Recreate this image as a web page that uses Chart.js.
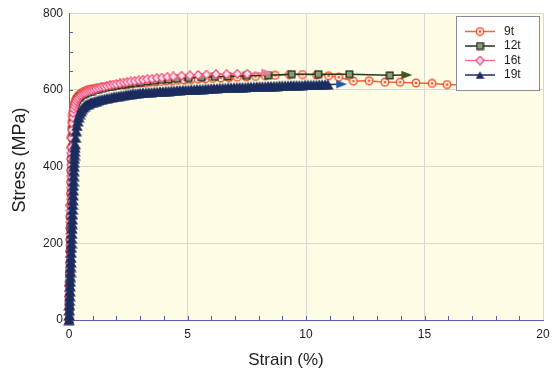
<!DOCTYPE html>
<html>
<head>
<meta charset="utf-8">
<script src="https://cdn.jsdelivr.net/npm/chart.js@4.4.0/dist/chart.umd.min.js"></script>
<style>
  html, body { margin: 0; padding: 0; background: #ffffff; }
  #wrap { width: 560px; height: 371px; }
</style>
</head>
<body>
<div id="wrap"><canvas id="c" width="560" height="371"></canvas></div>
<script>
// Tensile test curves: strain (%) vs. stress (MPa) for four plate thicknesses
const seriesNames = ['9t', '12t', '16t', '19t'];
const xTicks = [0, 5, 10, 15, 20];
const yTicks = [0, 200, 400, 600, 800];

const strain9t = [0, 0.006, 0.012, 0.018, 0.024, 0.03, 0.036, 0.042, 0.048, 0.054, 0.06, 0.066, 0.072, 0.078, 0.084, 0.09,
  0.1, 0.113, 0.128, 0.146, 0.167, 0.19, 0.22, 0.26, 0.3, 0.35, 0.4, 0.46, 0.53, 0.6, 0.68, 0.76, 0.85, 0.94, 1.03,
  1.15, 1.28, 1.41, 1.55, 1.7, 1.85, 2.0, 2.16, 2.33, 2.5, 2.68, 2.86, 3.05, 3.25, 3.45, 3.66, 3.88, 4.1, 4.35, 4.6,
  4.87, 5.15, 5.45, 5.75, 6.07, 6.4, 6.75, 7.1, 7.48, 7.87, 8.28, 8.7, 9.3, 9.85, 10.45, 10.95, 11.38, 12.0, 12.66,
  13.33, 13.97, 14.64, 15.32, 15.95, 16.62];
const stress9t = [0, 30, 60, 90, 120, 150, 180, 210, 240, 270, 300, 330, 360, 390, 420, 450,
  478, 500, 518, 533, 545, 555, 563, 570, 576, 581, 585, 589, 592, 595, 597, 599, 601, 602, 603,
  604, 606, 607, 608, 610, 611, 612, 613, 614, 615, 616, 617, 618, 619, 620, 621, 622, 623, 624, 625,
  626, 627, 628, 629, 630, 631, 632, 633, 634, 635, 637, 638, 640, 640, 639, 637, 633, 623, 624,
  620, 620, 618, 617, 614, 613];

const strain12t = [0, 0.009, 0.017, 0.026, 0.034, 0.043, 0.051, 0.06, 0.069, 0.077, 0.086, 0.094, 0.103, 0.111, 0.12, 0.129,
  0.14, 0.155, 0.172, 0.192, 0.215, 0.24, 0.27, 0.3, 0.36, 0.43, 0.5, 0.6, 0.7, 0.8, 0.9, 1.0,
  1.12, 1.25, 1.4, 1.55, 1.7, 1.85, 2.0, 2.2, 2.4, 2.6, 2.8, 3.0, 3.3, 3.6, 3.9, 4.2, 4.55, 5.05, 5.6, 6.15, 6.7,
  7.5, 8.4, 9.4, 10.52, 11.83, 13.54, 14.25];
const stress12t = [0, 30, 60, 90, 120, 150, 180, 210, 240, 270, 300, 330, 360, 390, 420, 450,
  475, 497, 515, 530, 542, 552, 560, 566, 574, 579, 583, 587, 590, 593, 595, 597,
  600, 602, 604, 606, 608, 610, 611, 613, 615, 617, 618, 620, 622, 624, 626, 627, 629, 631, 633, 634, 635,
  637, 638, 641, 641, 641, 638, 639];

const strain16t = [0, 0.003, 0.006, 0.009, 0.013, 0.016, 0.019, 0.022, 0.025, 0.028, 0.031, 0.034, 0.038, 0.041, 0.044,
  0.047, 0.05, 0.053, 0.056, 0.059, 0.063, 0.066, 0.069, 0.072, 0.075, 0.078, 0.081, 0.084, 0.088, 0.091, 0.094,
  0.105, 0.118, 0.134, 0.153, 0.175, 0.2, 0.23, 0.265, 0.305, 0.35, 0.4, 0.45, 0.51, 0.57, 0.64, 0.71, 0.79, 0.87, 0.95,
  1.04, 1.14, 1.25, 1.36, 1.48, 1.6, 1.73, 1.86, 2.0, 2.15, 2.3, 2.45, 2.6, 2.77, 2.94, 3.12, 3.3, 3.5, 3.7, 3.92,
  4.15, 4.4, 4.75, 5.1, 5.45, 5.8, 6.2, 6.65, 7.1, 7.52, 8.34];
const stress16t = [0, 15, 30, 45, 60, 75, 90, 105, 120, 135, 150, 165, 180, 195, 210,
  225, 240, 255, 270, 285, 300, 315, 330, 345, 360, 375, 390, 405, 420, 435, 450,
  474, 495, 513, 528, 540, 550, 558, 565, 571, 576, 580, 584, 587, 590, 592, 594, 596, 598, 599,
  601, 603, 605, 607, 608, 610, 612, 614, 615, 617, 619, 620, 622, 623, 625, 626, 628, 629, 631, 632,
  634, 635, 637, 638, 639, 640, 641, 641, 642, 642, 645];

const strain19t = [0, 0.006, 0.013, 0.02, 0.026, 0.033, 0.04, 0.047, 0.053, 0.059, 0.066, 0.073, 0.079, 0.086, 0.093,
  0.099, 0.106, 0.112, 0.119, 0.126, 0.132, 0.139, 0.146, 0.152, 0.159, 0.165, 0.172, 0.179, 0.185, 0.192, 0.198,
  0.205, 0.212, 0.219, 0.227, 0.235, 0.243, 0.251, 0.26,
  0.28, 0.305, 0.335, 0.37, 0.41, 0.455, 0.5, 0.55, 0.6, 0.66, 0.72, 0.79, 0.86,
  0.93, 1.0, 1.08, 1.16, 1.24, 1.32, 1.4, 1.5, 1.6, 1.7, 1.8, 1.9, 2.0, 2.1, 2.2, 2.3, 2.4, 2.5, 2.6, 2.7, 2.8,
  2.9, 3.0, 3.12, 3.24, 3.36, 3.48, 3.6, 3.72, 3.84, 3.96, 4.08, 4.2, 4.32, 4.44, 4.56, 4.68, 4.8, 4.92, 5.04,
  5.16, 5.28, 5.4, 5.52, 5.64, 5.76, 5.88, 6.0, 6.12, 6.24, 6.36, 6.48, 6.6, 6.72, 6.84, 6.96, 7.08, 7.2, 7.32,
  7.44, 7.56, 7.68, 7.8, 7.92, 8.04, 8.16, 8.28, 8.4, 8.52, 8.64, 8.76, 8.88, 9.0, 9.12, 9.24, 9.36, 9.48, 9.6,
  9.72, 9.84, 9.96, 10.08, 10.2, 10.32, 10.44, 10.56, 10.68, 10.8, 10.92, 11.5];
const stress19t = [0, 12, 25, 38, 50, 62, 75, 88, 100, 112, 125, 138, 150, 162, 175,
  188, 200, 212, 225, 238, 250, 262, 275, 288, 300, 312, 325, 338, 350, 362, 375,
  388, 400, 410, 420, 430, 440, 449, 458,
  475, 492, 506, 518, 528, 537, 544, 550, 554, 558, 561, 563, 565,
  567, 568, 570, 571, 573, 574, 575, 577, 578, 579, 581, 582, 583, 584, 585, 586, 587, 588, 589, 590, 590,
  591, 592, 593, 593, 594, 594, 595, 595, 596, 596, 597, 597, 598, 598, 599, 599, 600, 600, 600,
  601, 601, 602, 602, 602, 603, 603, 604, 604, 604, 605, 605, 605, 606, 606, 606, 607, 607, 607,
  607, 608, 608, 608, 609, 609, 609, 609, 610, 610, 610, 610, 611, 611, 611, 611, 612, 612, 612,
  612, 612, 613, 613, 613, 613, 613, 614, 614, 614, 614, 615];

// ---- marker sprites -------------------------------------------------------
function sprite(w, h, paint) {
  const c = document.createElement('canvas');
  c.width = w; c.height = h;
  paint(c.getContext('2d'), w, h);
  return c;
}
const mk9 = sprite(10, 10, (g) => {
  g.beginPath(); g.arc(5, 5, 3.8, 0, Math.PI * 2);
  g.fillStyle = '#fff0e6'; g.fill();
  g.lineWidth = 1.4; g.strokeStyle = '#f1552b'; g.stroke();
  g.beginPath(); g.arc(5, 5, 1.3, 0, Math.PI * 2);
  g.fillStyle = '#f1552b'; g.fill();
});
const mk12 = sprite(9, 9, (g) => {
  g.fillStyle = '#8d9c76'; g.fillRect(1, 1, 7, 7);
  g.lineWidth = 1.3; g.strokeStyle = '#1f2b1c'; g.strokeRect(1.2, 1.2, 6.6, 6.6);
});
const mk16 = sprite(10, 10, (g) => {
  g.beginPath(); g.moveTo(5, 0.8); g.lineTo(9.2, 5); g.lineTo(5, 9.2); g.lineTo(0.8, 5); g.closePath();
  g.fillStyle = '#fde3ec'; g.fill();
  g.lineWidth = 1.3; g.strokeStyle = '#f2507c'; g.stroke();
});
const mk19 = sprite(12, 11, (g) => {
  g.beginPath(); g.moveTo(6, 0.3); g.lineTo(11.8, 10.5); g.lineTo(0.2, 10.5); g.closePath();
  g.fillStyle = '#1b2c5e'; g.fill();
});
function arrow(color) {
  return sprite(12, 10, (g) => {
    g.beginPath(); g.moveTo(0.5, 0.8); g.lineTo(11.5, 5); g.lineTo(0.5, 9.2); g.closePath();
    g.fillStyle = color; g.fill();
  });
}

const styles = [
  { line: '#f2692f', marker: mk9,  arrow: arrow('#f2502a') },
  { line: '#27351f', marker: mk12, arrow: arrow('#44531c') },
  { line: '#f2708f', marker: mk16, arrow: arrow('#f27a98') },
  { line: '#1d2d5d', marker: mk19, arrow: arrow('#2456a8') }
];
const strains = [strain9t, strain12t, strain16t, strain19t];
const stresses = [stress9t, stress12t, stress16t, stress19t];

const datasets = seriesNames.map((name, i) => {
  const xs = strains[i], ys = stresses[i];
  const pts = xs.map((x, k) => ({ x: x, y: ys[k] }));
  const last = pts.length - 1;
  return {
    label: name,
    data: pts,
    showLine: true,
    borderColor: styles[i].line,
    borderWidth: 1.5,
    tension: 0,
    pointRadius: 4,
    pointStyle: pts.map((p, k) => (k === last ? styles[i].arrow : styles[i].marker)),
    clip: false,
    order: 4 - i
  };
});

// ---- plugins ---------------------------------------------------------------
const plotBackground = {
  id: 'plotBackground',
  beforeDraw(chart) {
    const { ctx, chartArea: a } = chart;
    ctx.save();
    ctx.fillStyle = '#fefde6';
    ctx.fillRect(a.left, a.top, a.right - a.left, a.bottom - a.top);
    ctx.restore();
  }
};

const innerTicks = {
  id: 'innerTicks',
  beforeDatasetsDraw(chart) {
    const { ctx, chartArea: a, scales } = chart;
    ctx.save();
    ctx.strokeStyle = '#5c5cae';
    ctx.lineWidth = 1;
    ctx.beginPath();
    for (let v = 1; v < 20; v++) {
      const px = Math.round(scales.x.getPixelForValue(v)) + 0.5;
      ctx.moveTo(px, a.bottom); ctx.lineTo(px, a.bottom - 4);
    }
    for (let v = 50; v < 800; v += 50) {
      const py = Math.round(scales.y.getPixelForValue(v)) + 0.5;
      ctx.moveTo(a.left, py); ctx.lineTo(a.left + 4, py);
    }
    ctx.stroke();
    ctx.restore();
  }
};

const axisTitles = {
  id: 'axisTitles',
  afterDraw(chart) {
    const { ctx } = chart;
    ctx.save();
    ctx.fillStyle = '#1e1e1e';
    ctx.font = "17px 'Liberation Sans', Arial, sans-serif";
    ctx.textAlign = 'center';
    ctx.textBaseline = 'middle';
    ctx.fillText('Strain (%)', 286, 360);
    ctx.translate(20, 160);
    ctx.rotate(-Math.PI / 2);
    ctx.font = "18px 'Liberation Sans', Arial, sans-serif";
    ctx.fillText('Stress (MPa)', 0, 0);
    ctx.restore();
  }
};

const boxLegend = {
  id: 'boxLegend',
  afterDraw(chart) {
    const { ctx } = chart;
    ctx.save();
    ctx.fillStyle = '#ffffff';
    ctx.fillRect(456, 16, 83, 74);
    ctx.strokeStyle = '#8a8a9a';
    ctx.lineWidth = 1;
    ctx.strokeRect(456.5, 16.5, 83, 74);
    const rows = [31.5, 46, 60.5, 75];
    seriesNames.forEach((name, i) => {
      const y = rows[i];
      ctx.strokeStyle = styles[i].line;
      ctx.lineWidth = 1.5;
      ctx.beginPath(); ctx.moveTo(465, y); ctx.lineTo(495, y); ctx.stroke();
      const m = i === 3 ? mk19legend : styles[i].marker;
      ctx.drawImage(m, 480 - m.width / 2, y - m.height / 2);
      ctx.fillStyle = '#1e1e1e';
      ctx.font = "12px 'Liberation Sans', Arial, sans-serif";
      ctx.textAlign = 'left';
      ctx.textBaseline = 'middle';
      ctx.fillText(name, 504, y);
    });
    ctx.restore();
  }
};
const mk19legend = sprite(9, 8, (g) => {
  g.beginPath(); g.moveTo(4.5, 0.3); g.lineTo(8.8, 7.7); g.lineTo(0.2, 7.7); g.closePath();
  g.fillStyle = '#1b2c5e'; g.fill();
});

Chart.defaults.font.family = "'Liberation Sans', Arial, sans-serif";

new Chart(document.getElementById('c'), {
  type: 'scatter',
  data: { datasets: datasets },
  options: {
    responsive: false,
    devicePixelRatio: 1,
    animation: false,
    layout: { padding: { top: 8, right: 17, left: 0, bottom: 0 } },
    plugins: { legend: { display: false }, tooltip: { enabled: false } },
    scales: {
      x: {
        type: 'linear', min: 0, max: 20,
        afterBuildTicks: (s) => { s.ticks = xTicks.map(v => ({ value: v })); },
        afterFit: (s) => { s.height = 51; },
        ticks: { color: '#1e1e1e', font: { size: 12 }, padding: 7, maxRotation: 0 },
        grid: { color: '#dcd6d6', drawTicks: false },
        border: { color: '#5c5cae', width: 1 }
      },
      y: {
        type: 'linear', min: 0, max: 800,
        afterBuildTicks: (s) => { s.ticks = yTicks.map(v => ({ value: v })); },
        afterFit: (s) => { s.width = 69; },
        ticks: { color: '#1e1e1e', font: { size: 12 }, padding: 6 },
        grid: { color: '#dcd6d6', drawTicks: false },
        border: { color: '#5c5cae', width: 1 }
      }
    }
  },
  plugins: [plotBackground, innerTicks, axisTitles, boxLegend]
});
</script>
</body>
</html>
